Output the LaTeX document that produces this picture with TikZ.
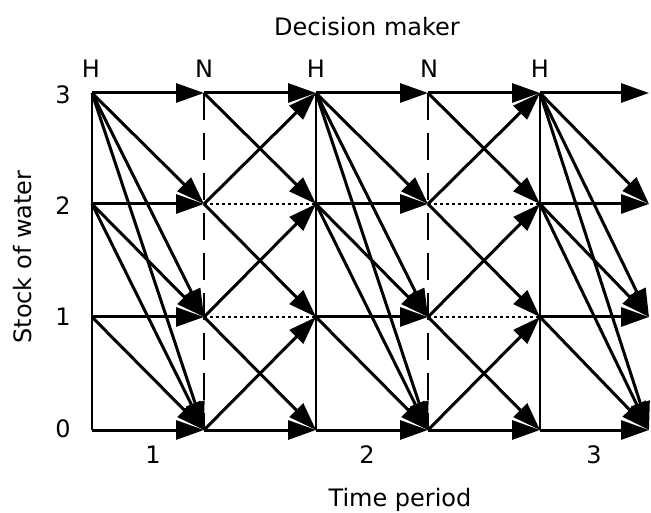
\documentclass[tikz,border=0pt]{standalone}
\usepackage{fontspec}
\setmainfont{DejaVu Sans}
\usetikzlibrary{arrows.meta}
\begin{document}
\begin{tikzpicture}[x=1pt,y=1pt,
  flow/.style={line width=3pt,-{Triangle[length=28pt,width=19pt]}},
  gridline/.style={line width=1.6pt},
  dashline/.style={line width=2pt,dash pattern=on 27pt off 13pt},
  dotline/.style={line width=2pt,dash pattern=on 3pt off 3pt},
  lbl/.style={font=\fontsize{24}{28}\selectfont,inner sep=0pt}]
\useasboundingbox (0,0) rectangle (651,512);
% grid points: column c (0..5), row r (0..3)
\foreach \c/\x in {0/92,1/204,2/316,3/428,4/540,5/649}
  \foreach \r/\y in {3/419,2/308,1/195,0/82}
    \coordinate (p\c\r) at (\x,\y);
% vertical lines
\foreach \c in {0,2,4} \draw[gridline] (p\c3) -- (p\c0);
\foreach \c in {1,3} \draw[dashline] (p\c3) -- (p\c0);
% dotted horizontals (N -> H, no change)
\draw[dotline] (p12) -- (p22);
\draw[dotline] (p11) -- (p21);
\draw[dotline] (p32) -- (p42);
\draw[dotline] (p31) -- (p41);
% release arrows H -> N
\foreach \c/\n in {0/1,2/3,4/5}{
  \foreach \s in {0,...,3}{
    \foreach \t in {0,...,\s}{
      \draw[flow] (p\c\s) -- (p\n\t);
    }
  }
}
% inflow arrows N -> H
\foreach \c/\n in {1/2,3/4}{
  \draw[flow] (p\c3) -- (p\n3);
  \draw[flow] (p\c3) -- (p\n2);
  \draw[flow] (p\c2) -- (p\n3);
  \draw[flow] (p\c2) -- (p\n1);
  \draw[flow] (p\c1) -- (p\n2);
  \draw[flow] (p\c1) -- (p\n0);
  \draw[flow] (p\c0) -- (p\n1);
  \draw[flow] (p\c0) -- (p\n0);
}
% labels
\node[lbl,anchor=base] (title) at (367,476) {Decision maker};
\node[lbl,anchor=base] (xlab) at (400,6) {Time period};
\node[lbl,rotate=90] (ylab) at (23,255) {Stock of water};
\node[lbl,anchor=base] (d0) at (91,434) {H};
\node[lbl,anchor=base] (d1) at (204,434) {N};
\node[lbl,anchor=base] (d2) at (316,434) {H};
\node[lbl,anchor=base] (d3) at (429,434) {N};
\node[lbl,anchor=base] (d4) at (540,434) {H};
\node[lbl] (r3) at (63,417) {3};
\node[lbl] (r2) at (63,306) {2};
\node[lbl] (r1) at (63,195) {1};
\node[lbl] (r0) at (63,83) {0};
\node[lbl] (t1) at (153,57) {1};
\node[lbl] (t2) at (367,57) {2};
\node[lbl] (t3) at (594,57) {3};
\end{tikzpicture}
\end{document}
